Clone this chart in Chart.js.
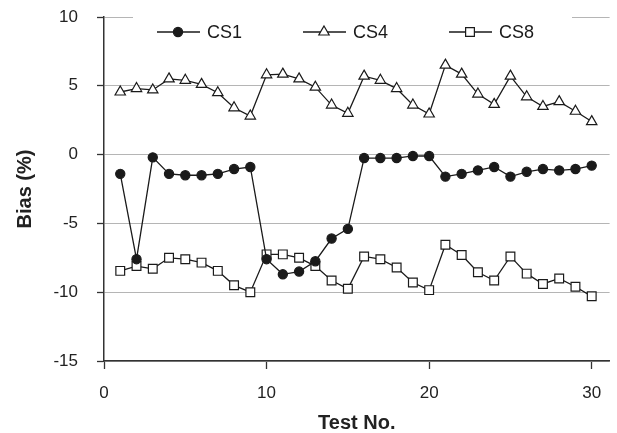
<!DOCTYPE html>
<html><head><meta charset="utf-8">
<script src="https://cdn.jsdelivr.net/npm/chart.js@4/dist/chart.umd.min.js"></script>
<style>html,body{margin:0;padding:0;background:#fff}#wrap{width:617px;height:433px}</style>
</head><body><div id="wrap"><canvas id="c" width="617" height="433"></canvas></div>
<script>
const testNo = [1,2,3,4,5,6,7,8,9,10,11,12,13,14,15,16,17,18,19,20,21,22,23,24,25,26,27,28,29,30];
const cs1 = [-1.4,-7.6,-0.2,-1.4,-1.5,-1.5,-1.4,-1.05,-0.9,-7.6,-8.7,-8.5,-7.75,-6.1,-5.4,-0.25,-0.25,-0.25,-0.1,-0.1,-1.6,-1.4,-1.15,-0.9,-1.6,-1.25,-1.05,-1.15,-1.05,-0.8];
const cs4 = [4.55,4.8,4.7,5.5,5.4,5.1,4.5,3.4,2.8,5.8,5.85,5.5,4.9,3.6,3.0,5.7,5.4,4.8,3.6,2.95,6.5,5.85,4.4,3.65,5.7,4.2,3.5,3.85,3.15,2.4];
const cs8 = [-8.45,-8.1,-8.3,-7.5,-7.6,-7.85,-8.45,-9.5,-10.0,-7.25,-7.25,-7.5,-8.1,-9.15,-9.75,-7.4,-7.6,-8.2,-9.3,-9.85,-6.55,-7.3,-8.55,-9.15,-7.4,-8.65,-9.4,-9.0,-9.6,-10.3];
const seriesNames = ['CS1','CS4','CS8'];
const xTicks = [0,10,20,30];
const yTicks = [-15,-10,-5,0,5,10];

const ink = '#1a1a1a';
const FONT = '"Liberation Sans", Arial, sans-serif';
const pts = arr => arr.map((v,i)=>({x:testNo[i], y:v}));
const styles = [
  {pointStyle:'circle', pointRadius:4.6, pointBackgroundColor:ink},
  {pointStyle:'triangle', pointRadius:6, pointBackgroundColor:'#fff'},
  {pointStyle:'rect', pointRadius:6.2, pointBackgroundColor:'#fff'}
];
const datasets = [cs1,cs4,cs8].map((arr,i)=>Object.assign({
  label: seriesNames[i], data: pts(arr), showLine:true, borderColor:ink, borderWidth:1.3,
  pointBorderColor:ink, pointBorderWidth:1.2, tension:0
}, styles[i]));

const legendPlugin = {
  id:'customLegend',
  beforeDatasetsDraw(chart){
    const {ctx, chartArea} = chart;
    ctx.save();
    ctx.fillStyle = '#fff';
    ctx.fillRect(chartArea.left+29, chartArea.top-8, 439, 46);
    const y = chartArea.top + 15;
    ctx.font = '18px ' + FONT;
    ctx.textBaseline = 'middle';
    chart.data.datasets.forEach((ds,i)=>{
      const x0 = chartArea.left + 53 + i*146;
      ctx.strokeStyle = ink; ctx.lineWidth = 1.3;
      ctx.beginPath(); ctx.moveTo(x0,y); ctx.lineTo(x0+43,y); ctx.stroke();
      ctx.fillStyle = ds.pointBackgroundColor; ctx.strokeStyle = ink; ctx.lineWidth = 1.2;
      Chart.helpers.drawPoint(ctx, {pointStyle: ds.pointStyle, radius: ds.pointRadius, borderWidth:1.2}, x0+21, y);
      ctx.fillStyle = ink;
      ctx.fillText(ds.label, x0+50, y+1);
    });
    ctx.restore();
  }
};

new Chart(document.getElementById('c'), {
  type:'scatter',
  data:{datasets},
  plugins:[legendPlugin],
  options:{
    responsive:false, animation:false,
    layout:{padding:{top:17,right:1,left:0,bottom:0}},
    plugins:{legend:{display:false}, tooltip:{enabled:false}},
    scales:{
      x:{
        type:'linear', min:0, max:31.1,
        afterBuildTicks: s => { s.ticks = xTicks.map(v=>({value:v})); },
        afterFit: s => { s.height = 72; s.paddingLeft = 0; s.paddingRight = 0; },
        ticks:{color:'#222', font:{size:17, family:FONT}, padding:14, maxRotation:0},
        grid:{drawOnChartArea:false, tickLength:8, tickColor:'#333', tickWidth:1.3},
        border:{color:'#333', width:1.5},
        title:{display:true, text:'Test No.', color:'#222', font:{size:20, weight:'bold', family:FONT, lineHeight:1.0}, padding:{top:0,bottom:0}}
      },
      y:{
        min:-15, max:10,
        afterBuildTicks: s => { s.ticks = yTicks.map(v=>({value:v})); },
        afterFit: s => { s.width = 104; s.paddingTop = 0; s.paddingBottom = 0; },
        ticks:{color:'#222', font:{size:17, family:FONT}, padding:19},
        grid:{color:'#b5b5b5', lineWidth:1, borderDash:[2,2], tickLength:7, tickColor:'#333', tickWidth:1.3, tickBorderDash:[]},
        border:{color:'#333', width:1.5},
        title:{display:true, text:'Bias (%)', color:'#222', font:{size:20, weight:'bold', family:FONT}, padding:{top:13,bottom:0}}
      }
    }
  }
});
</script></body></html>
